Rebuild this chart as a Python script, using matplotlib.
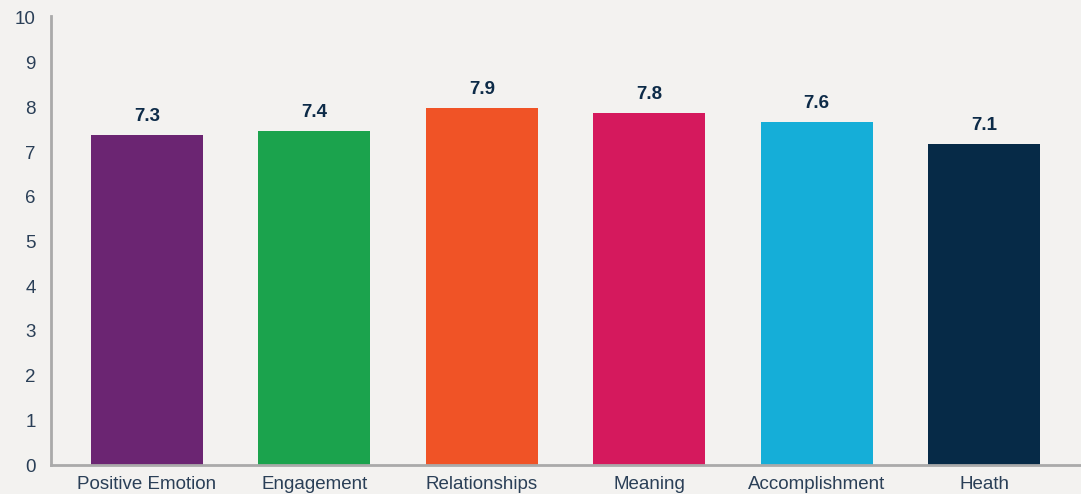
import matplotlib
matplotlib.use("Agg")
import matplotlib.pyplot as plt

categories = ["Positive Emotion", "Engagement", "Relationships", "Meaning", "Accomplishment", "Heath"]
values = [7.38, 7.47, 7.99, 7.87, 7.67, 7.18]
value_labels = ["7.3", "7.4", "7.9", "7.8", "7.6", "7.1"]
colors = ["#6b2572", "#1ba34d", "#f05326", "#d5195d", "#15aed8", "#062a47"]
yticks = [0, 1, 2, 3, 4, 5, 6, 7, 8, 9, 10]

bg = "#f3f2f0"
plt.rcParams["font.family"] = ["Liberation Sans", "DejaVu Sans"]

fig = plt.figure(figsize=(10.81, 4.94), dpi=100, facecolor=bg)
ax = fig.add_axes([51/1081, 1-465/494, (1080-51)/1081, (465-18)/494], facecolor=bg)

x = list(range(len(categories)))
bars = ax.bar(x, values, width=0.67, color=colors)
for b, lab in zip(bars, value_labels):
    ax.annotate(lab, (b.get_x() + b.get_width()/2, b.get_height()),
                xytext=(0, 7), textcoords="offset points", ha="center", va="bottom",
                fontsize=13.5, fontweight="bold", color="#0d2b48")

ax.set_xlim(-0.573, 5.573)
ax.set_ylim(0, 10)
ax.set_yticks(yticks)
ax.set_xticks(x)
ax.set_xticklabels(categories)
ax.tick_params(axis="both", length=0, labelsize=13.5, colors="#2a3f57")
ax.tick_params(axis="y", pad=11)
ax.tick_params(axis="x", pad=8)
for s in ["top", "right"]:
    ax.spines[s].set_visible(False)
for s in ["left", "bottom"]:
    ax.spines[s].set_color("#aaaaaa")
    ax.spines[s].set_linewidth(2)
ax.spines["left"].set_bounds(0, 10.05)

fig.savefig("out.png", dpi=100, facecolor=bg)
